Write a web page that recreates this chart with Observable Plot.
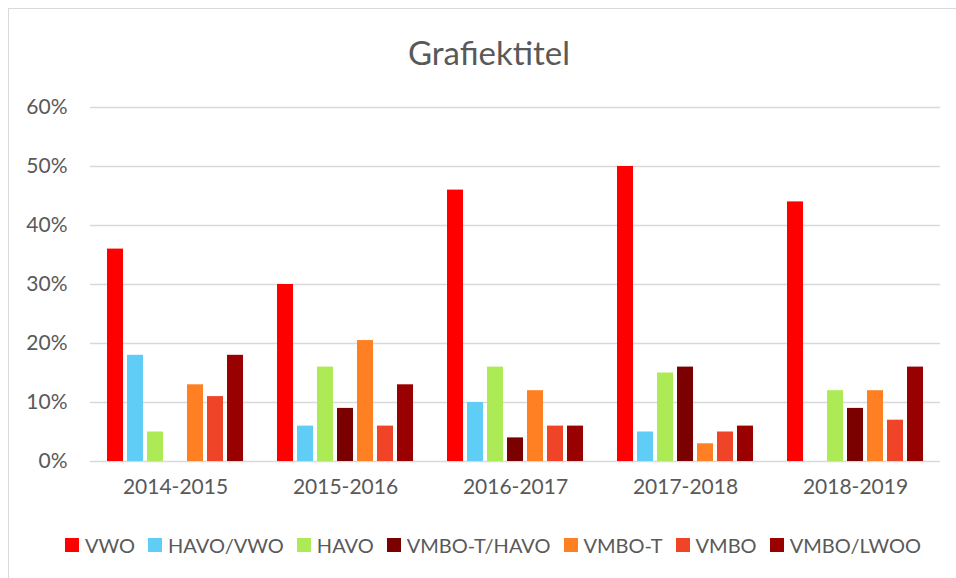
<!DOCTYPE html>
<html>
<head>
<meta charset="utf-8">
<script src="https://cdn.jsdelivr.net/npm/d3@7"></script>
<script src="https://cdn.jsdelivr.net/npm/@observablehq/plot@0.6"></script>
<style>
  html, body { margin: 0; padding: 0; background: #fff; }
  #wrap { position: relative; width: 956px; height: 578px; overflow: hidden; font-family: Lato, "Open Sans", sans-serif; color: #595959; }
  #border { position: absolute; left: 8px; top: 8px; width: 960px; height: 600px; border: 1px solid #d9d9d9; box-sizing: border-box; }
  #title { position: absolute; left: 0; width: 978px; top: 32px; text-align: center; font-size: 33px; line-height: 40px; }
  #chart { position: absolute; left: 0; top: 90px; }
  #legend { position: absolute; left: 0; width: 986px; top: 532px; display: flex; justify-content: center; gap: 13px; font-size: 20px; line-height: 26px; }
  .item { display: flex; align-items: center; gap: 6px; }
  .sw { width: 14px; height: 14px; display: inline-block; }
</style>
</head>
<body>
<div id="wrap">
  <div id="border"></div>
  <div id="title">Grafiektitel</div>
  <div id="chart"></div>
  <div id="legend"></div>
</div>
<script>
const years = ["2014-2015", "2015-2016", "2016-2017", "2017-2018", "2018-2019"];
const series = ["VWO", "HAVO/VWO", "HAVO", "VMBO-T/HAVO", "VMBO-T", "VMBO", "VMBO/LWOO"];
const colors = ["#ff0000", "#5fcdf5", "#acea56", "#7b0000", "#ff8022", "#f04428", "#990000"];
const vwo        = [36, 30, 46, 50, 44];
const havoVwo    = [18, 6, 10, 5, null];
const havo       = [5, 16, 16, 15, 12];
const vmbotHavo  = [null, 9, 4, 16, 9];
const vmboT      = [13, 20.5, 12, 3, 12];
const vmbo       = [11, 6, 6, 5, 7];
const vmboLwoo   = [18, 13, 6, 6, 16];
const yTicks = [0, 0.1, 0.2, 0.3, 0.4, 0.5, 0.6];

const seriesValues = [vwo, havoVwo, havo, vmbotHavo, vmboT, vmbo, vmboLwoo];
const data = [];
series.forEach((s, i) => {
  seriesValues[i].forEach((v, j) => {
    if (v != null) data.push({year: years[j], series: s, value: v / 100});
  });
});

const chart = Plot.plot({
  width: 956,
  height: 416,
  marginLeft: 90,
  marginRight: 16,
  marginTop: 17,
  marginBottom: 45,
  style: {fontSize: "21px", fontFamily: "Lato, 'Open Sans', sans-serif", color: "#595959", background: "transparent"},
  fx: {domain: years, padding: 0, label: null, tickSize: 0, tickPadding: 18, axis: "bottom"},
  x: {domain: series, paddingInner: 0.2, paddingOuter: 0.85, axis: null},
  y: {domain: [0, 0.6], ticks: yTicks, tickFormat: d => Math.round(d * 100) + "%", label: null, tickSize: 0, tickPadding: 23},
  color: {domain: series, range: colors},
  marks: [
    Plot.gridY(yTicks, {stroke: "#d9d9d9", strokeOpacity: 1, strokeWidth: 1.3}),
    Plot.barY(data, {fx: "year", x: "series", y: "value", fill: "series"})
  ]
});
document.getElementById("chart").appendChild(chart);

const legend = document.getElementById("legend");
series.forEach((s, i) => {
  const item = document.createElement("div");
  item.className = "item";
  const sw = document.createElement("span");
  sw.className = "sw";
  sw.style.background = colors[i];
  const t = document.createElement("span");
  t.textContent = s;
  item.appendChild(sw);
  item.appendChild(t);
  legend.appendChild(item);
});
</script>
</body>
</html>
